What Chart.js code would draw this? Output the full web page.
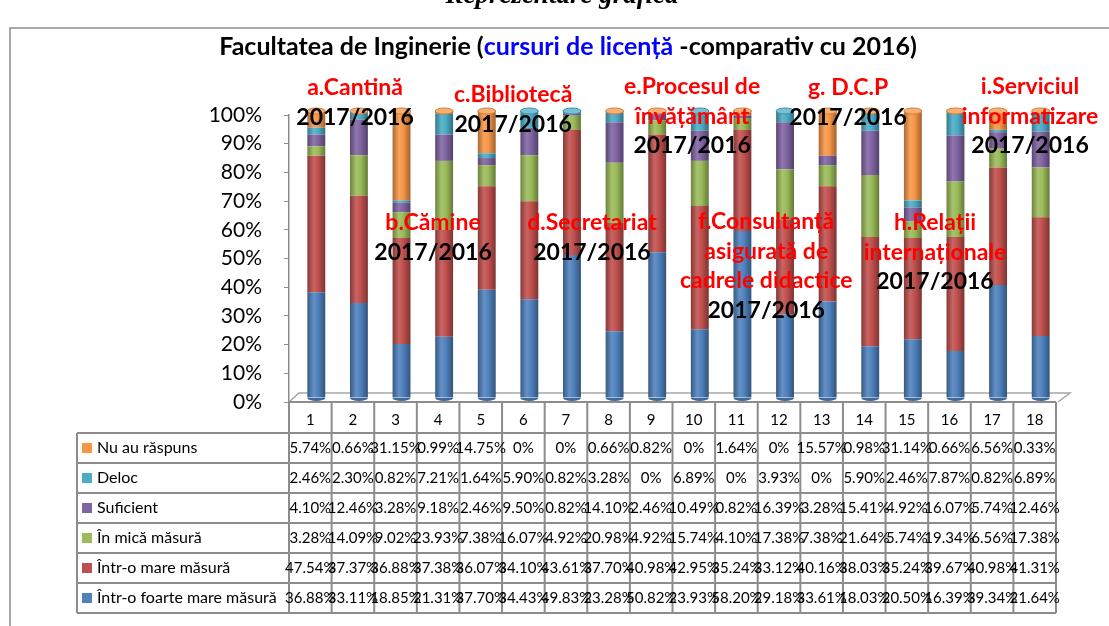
<!DOCTYPE html>
<html>
<head>
<meta charset="utf-8">
<script src="https://cdn.jsdelivr.net/npm/chart.js@4"></script>
<style>
    html, body { margin: 0; padding: 0; background: #fff; }
    #wrap { width: 1109px; height: 626px; position: relative; }
</style>
</head>
<body>
<div id="wrap"><canvas id="facChart" width="1109" height="626"></canvas></div>
<script>
// =====================================
// DATE (procente, citite din tabel)
// =====================================

const categories = ["1", "2", "3", "4", "5", "6", "7", "8", "9", "10", "11", "12", "13", "14", "15", "16", "17", "18"];

const nuAuRaspuns = [5.74, 0.66, 31.15, 0.99, 14.75, 0, 0, 0.66, 0.82, 0, 1.64, 0, 15.57, 0.98, 31.14, 0.66, 6.56, 0.33];
const deloc = [2.46, 2.30, 0.82, 7.21, 1.64, 5.90, 0.82, 3.28, 0, 6.89, 0, 3.93, 0, 5.90, 2.46, 7.87, 0.82, 6.89];
const suficient = [4.10, 12.46, 3.28, 9.18, 2.46, 9.50, 0.82, 14.10, 2.46, 10.49, 0.82, 16.39, 3.28, 15.41, 4.92, 16.07, 5.74, 12.46];
const inMicaMasura = [3.28, 14.09, 9.02, 23.93, 7.38, 16.07, 4.92, 20.98, 4.92, 15.74, 4.10, 17.38, 7.38, 21.64, 5.74, 19.34, 6.56, 17.38];
const intrOMareMasura = [47.54, 37.37, 36.88, 37.38, 36.07, 34.10, 43.61, 37.70, 40.98, 42.95, 35.24, 33.12, 40.16, 38.03, 35.24, 39.67, 40.98, 41.31];
const intrOFoarteMareMasura = [36.88, 33.11, 18.85, 21.31, 37.70, 34.43, 49.83, 23.28, 50.82, 23.93, 58.20, 29.18, 33.61, 18.03, 20.50, 16.39, 39.34, 21.64];

const yTicks = [0, 10, 20, 30, 40, 50, 60, 70, 80, 90, 100];

// etichete rosii pe grafic (ancorate pe axe: index categorie, procent)
const notes = [
    { at: [1.05, 109.5], lines: ["a.Cantină"] },
    { at: [2.88, 62.5], lines: ["b.Cămine"] },
    { at: [4.76, 107], lines: ["c.Bibliotecă"] },
    { at: [6.61, 62.5], lines: ["d.Secretariat"] },
    { at: [8.96, 109.8], lines: ["e.Procesul de", "învățământ"] },
    { at: [10.7, 62.7], lines: ["f.Consultanță", "asigurată de", "cadrele didactice"] },
    { at: [12.62, 109.5], lines: ["g. D.C.P"] },
    { at: [14.66, 62.5], lines: ["h.Relații", "internaționale"] },
    { at: [16.89, 109.8], lines: ["i.Serviciul", "informatizare"] }
];

const yearLabel = "2017/2016";

// =====================================
// STIL
// =====================================

const FONT = "Lato, 'Open Sans', sans-serif";
const GRID = "#8c8c8c";
const barShare = 0.42;
const depth = { dx: 6, dy: -4 };

const series = [
    { name: "Într-o foarte mare măsură", data: intrOFoarteMareMasura, color: "#4F81BD" },
    { name: "Într-o mare măsură", data: intrOMareMasura, color: "#C0504D" },
    { name: "În mică măsură", data: inMicaMasura, color: "#9BBB59" },
    { name: "Suficient", data: suficient, color: "#8064A2" },
    { name: "Deloc", data: deloc, color: "#4BACC6" },
    { name: "Nu au răspuns", data: nuAuRaspuns, color: "#F79646" }
];

function shade(hex, f) {
    const n = parseInt(hex.slice(1), 16);
    let r = n >> 16, g = (n >> 8) & 255, b = n & 255;
    if (f < 0) {
        r = r * (1 + f); g = g * (1 + f); b = b * (1 + f);
    } else {
        r = r + (255 - r) * f; g = g + (255 - g) * f; b = b + (255 - b) * f;
    }
    return "rgb(" + Math.round(r) + "," + Math.round(g) + "," + Math.round(b) + ")";
}

function cylinder(context, color) {
    const chart = context.chart;
    if (!chart.chartArea || context.type !== "data") return color;
    const xs = chart.scales.x;
    const cx = xs.getPixelForValue(context.dataIndex);
    const half = xs.width / categories.length * barShare / 2;
    const g = chart.ctx.createLinearGradient(cx - half, 0, cx + half, 0);
    g.addColorStop(0, shade(color, -0.3));
    g.addColorStop(0.35, shade(color, 0.12));
    g.addColorStop(0.6, color);
    g.addColorStop(1, shade(color, -0.35));
    return g;
}

function fmt(v) {
    return v === 0 ? "0%" : v.toFixed(2) + "%";
}

// =====================================
// PLUGIN: cadru, titlu, podea 3D, tabel
// =====================================

const scenePlugin = {
    id: "scene",

    beforeDraw(chart) {
        const ctx = chart.ctx;
        ctx.save();
        ctx.fillStyle = "#fff";
        ctx.fillRect(0, 0, chart.width, chart.height);

        // titlul paginii, taiat sus
        ctx.fillStyle = "#000";
        ctx.font = "italic bold 27px 'Liberation Serif', serif";
        ctx.textAlign = "center";
        ctx.textBaseline = "alphabetic";
        ctx.fillText("Reprezentare grafică", 562, 3);

        // cadru
        ctx.strokeStyle = GRID;
        ctx.lineWidth = 1.5;
        ctx.beginPath();
        ctx.moveTo(10, chart.height + 5);
        ctx.lineTo(10, 28);
        ctx.lineTo(chart.width + 5, 28);
        ctx.stroke();

        // titlul graficului, in doua culori
        const parts = [
            ["Facultatea de Inginerie (", "#000"],
            ["cursuri de licență", "#0000FF"],
            [" -comparativ cu 2016)", "#000"]
        ];
        ctx.font = "bold 25px " + FONT;
        ctx.textBaseline = "middle";
        ctx.textAlign = "left";
        const total = parts.reduce((s, p) => s + ctx.measureText(p[0]).width, 0);
        let x = 568 - total / 2;
        parts.forEach(p => {
            ctx.fillStyle = p[1];
            ctx.fillText(p[0], x, 47);
            x += ctx.measureText(p[0]).width;
        });
        ctx.restore();
    },

    beforeDatasetsDraw(chart) {
        const ctx = chart.ctx;
        const a = chart.chartArea;

        // podeaua 3D
        ctx.save();
        ctx.strokeStyle = "#a6a6a6";
        ctx.lineWidth = 1.5;
        ctx.beginPath();
        ctx.moveTo(a.left, a.bottom);
        ctx.lineTo(a.left + 10, a.bottom - 9);
        ctx.lineTo(a.right + 14, a.bottom - 9);
        ctx.lineTo(a.right + 2, a.bottom);
        ctx.stroke();
        ctx.restore();

        ctx.save();
        ctx.translate(depth.dx, depth.dy);
    },

    afterDatasetsDraw(chart) {
        const ctx = chart.ctx;
        const xs = chart.scales.x;
        const ys = chart.scales.y;
        const half = xs.width / categories.length * barShare / 2;

        categories.forEach((c, i) => {
            const cx = xs.getPixelForValue(i);
            const sum = series.reduce((s, d) => s + d.data[i], 0);
            const top = ys.getPixelForValue(sum);
            const bottom = ys.getPixelForValue(0);
            let topColor = series[0].color;
            series.forEach(d => { if (d.data[i] > 0) topColor = d.color; });

            // fundul rotunjit
            ctx.fillStyle = shade(series[0].color, -0.2);
            ctx.beginPath();
            ctx.ellipse(cx, bottom, half, 3, 0, 0, Math.PI);
            ctx.fill();

            // capacul
            ctx.fillStyle = shade(topColor, 0.25);
            ctx.strokeStyle = shade(topColor, -0.15);
            ctx.lineWidth = 1;
            ctx.beginPath();
            ctx.ellipse(cx, top, half, 3, 0, 0, Math.PI * 2);
            ctx.fill();
            ctx.stroke();
        });

        ctx.restore();
    },

    afterDraw(chart) {
        const ctx = chart.ctx;
        const a = chart.chartArea;
        const xs = chart.scales.x;
        const ys = chart.scales.y;
        const colW = (a.right - a.left) / categories.length;
        const legendLeft = 77;
        const headTop = a.bottom;
        const headH = 31;
        const rowH = 30;
        const rows = series.slice().reverse();
        const tableBottom = headTop + headH + rows.length * rowH;

        ctx.save();

        // liniile tabelului
        ctx.strokeStyle = GRID;
        ctx.lineWidth = 2;
        ctx.beginPath();
        ctx.moveTo(a.left, headTop);
        ctx.lineTo(a.right, headTop);
        for (let r = 0; r <= rows.length; r++) {
            const y = headTop + headH + r * rowH;
            ctx.moveTo(legendLeft, y);
            ctx.lineTo(a.right, y);
        }
        ctx.moveTo(legendLeft, headTop + headH);
        ctx.lineTo(legendLeft, tableBottom);
        for (let i = 0; i <= categories.length; i++) {
            const x = a.left + i * colW;
            ctx.moveTo(x, headTop);
            ctx.lineTo(x, tableBottom);
        }
        ctx.stroke();

        // antet cu numerele categoriilor
        ctx.fillStyle = "#000";
        ctx.textAlign = "center";
        ctx.textBaseline = "middle";
        ctx.font = "15px " + FONT;
        categories.forEach((c, i) => {
            ctx.fillText(c, a.left + (i + 0.5) * colW, headTop + headH / 2 + 3);
        });

        // randuri: legenda + valori
        rows.forEach((s, r) => {
            const yc = headTop + headH + r * rowH + rowH / 2;
            ctx.fillStyle = s.color;
            ctx.fillRect(legendLeft + 5, yc - 5, 10, 10);
            ctx.fillStyle = "#000";
            ctx.textAlign = "left";
            ctx.font = "16px " + FONT;
            ctx.fillText(s.name, legendLeft + 20, yc);
            ctx.textAlign = "center";
            ctx.font = "15px " + FONT;
            s.data.forEach((v, i) => {
                ctx.fillText(fmt(v), a.left + (i + 0.5) * colW, yc);
            });
        });

        // etichetele rosii + anii
        ctx.font = "bold 23px " + FONT;
        ctx.textAlign = "center";
        ctx.textBaseline = "middle";
        notes.forEach(n => {
            const x = xs.getPixelForValue(n.at[0]);
            let y = ys.getPixelForValue(n.at[1]);
            ctx.fillStyle = "#FF0000";
            n.lines.forEach(l => {
                ctx.fillText(l, x, y);
                y += 29.5;
            });
            ctx.fillStyle = "#000";
            ctx.fillText(yearLabel, x, y);
        });

        ctx.restore();
    }
};

// =====================================
// CHART
// =====================================

const ctx = document.getElementById("facChart").getContext("2d");

new Chart(ctx, {

    type: "bar",

    data: {
        labels: categories,
        datasets: series.map(s => ({
            label: s.name,
            data: s.data,
            backgroundColor: c => cylinder(c, s.color),
            borderWidth: 0,
            barPercentage: barShare,
            categoryPercentage: 1,
            clip: false
        }))
    },

    options: {
        responsive: false,
        animation: false,
        events: [],
        layout: {
            padding: { left: 0, right: 53, top: 115, bottom: 224 }
        },
        plugins: {
            legend: { display: false },
            tooltip: { enabled: false }
        },
        scales: {
            x: {
                stacked: true,
                display: false
            },
            y: {
                stacked: true,
                min: 0,
                max: 100,
                afterFit(scale) { scale.width = 289; },
                afterBuildTicks(scale) { scale.ticks = yTicks.map(v => ({ value: v })); },
                ticks: {
                    callback: v => v + "%",
                    color: "#000",
                    padding: 22,
                    font: { family: FONT, size: 21 }
                },
                grid: {
                    drawOnChartArea: false,
                    drawTicks: true,
                    tickLength: 5,
                    color: GRID
                },
                border: { display: true, color: GRID, width: 1.5 }
            }
        }
    },

    plugins: [scenePlugin]

});
</script>
</body>
</html>
